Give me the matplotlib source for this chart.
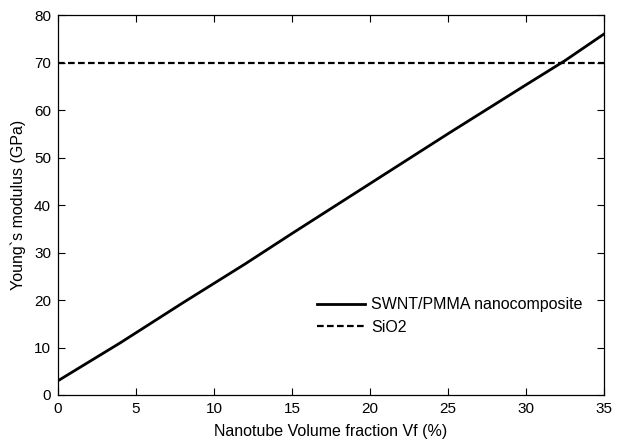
import numpy as np
import matplotlib
matplotlib.use('Agg')
import matplotlib.pyplot as plt

# values
vf = [0, 2, 4, 6, 8, 10, 12, 15, 20, 25, 30, 32.5, 35]
modulus = [3.0, 7.0, 11.0, 15.2, 19.4, 23.5, 27.6, 34.0, 44.5, 55.0, 65.3, 70.4, 76.0]
sio2 = 70

plt.rcParams['font.family'] = ['Liberation Sans', 'DejaVu Sans']
fs = 11.5

fig = plt.figure(figsize=(6.19, 4.45), dpi=100)
ax = fig.add_axes([58 / 619, 50 / 445, 546 / 619, 380 / 445])

ax.plot(vf, modulus, color='black', lw=2, label='SWNT/PMMA nanocomposite')
ax.axhline(sio2, color='black', lw=1.6, ls=(0, (3, 1.5)), label='SiO2')

ax.set_xlim(0, 35)
ax.set_ylim(0, 80)
ax.set_xticks(range(0, 36, 5))
ax.set_yticks(range(0, 81, 10))
ax.tick_params(direction='in', top=True, right=True, length=5, labelsize=11, pad=5)
for s in ax.spines.values():
    s.set_linewidth(0.9)

ax.set_xlabel('Nanotube Volume fraction Vf (%)', fontsize=fs, labelpad=6)
ax.set_ylabel('Young`s modulus (GPa)', fontsize=fs, labelpad=6)

ax.legend(loc='upper left', bbox_to_anchor=(0.474, 0.257), frameon=False, fontsize=fs,
          borderpad=0, borderaxespad=0, handlelength=3.0, handletextpad=0.4,
          labelspacing=0.45)

fig.savefig('out.png', dpi=100)
